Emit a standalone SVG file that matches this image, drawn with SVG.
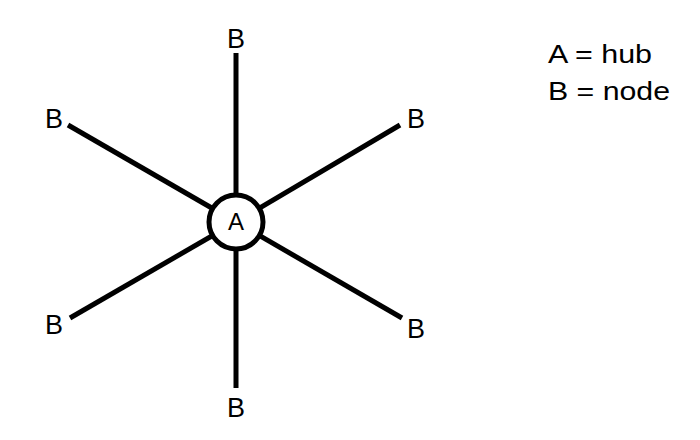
<svg xmlns="http://www.w3.org/2000/svg" width="700" height="440" viewBox="0 0 700 440">
<style>
.lbl{font-family:"Liberation Sans",Arial,sans-serif;font-size:27px;fill:#000;text-anchor:middle}
.leg{font-family:"Liberation Sans",Arial,sans-serif;font-size:25px;fill:#000}
.conn line{stroke:#000;stroke-width:5;stroke-linecap:butt}
</style>
<rect width="700" height="440" fill="#fff"/>
<g id="connectors" class="conn">
<line x1="236" y1="53" x2="236" y2="222"/>
<line x1="236" y1="388" x2="236" y2="222"/>
<line x1="68" y1="125" x2="236" y2="222"/>
<line x1="70" y1="318" x2="236" y2="222"/>
<line x1="400" y1="125" x2="236" y2="222"/>
<line x1="402" y1="318" x2="236" y2="222"/>
</g>
<g id="hub">
<circle cx="236" cy="222" r="27" fill="#fff" stroke="#000" stroke-width="5"/>
<text class="lbl" x="236" y="230" style="font-size:24px">A</text>
</g>
<g id="node-top"><text class="lbl" x="236" y="48">B</text></g>
<g id="node-bottom"><text class="lbl" x="236" y="417">B</text></g>
<g id="node-top-left"><text class="lbl" x="54" y="128">B</text></g>
<g id="node-bottom-left"><text class="lbl" x="54" y="334">B</text></g>
<g id="node-top-right"><text class="lbl" x="416" y="128">B</text></g>
<g id="node-bottom-right"><text class="lbl" x="416" y="338">B</text></g>
<g id="legend">
<text class="leg" x="548" y="63" textLength="104" lengthAdjust="spacingAndGlyphs">A = hub</text>
<text class="leg" x="548" y="100" textLength="122" lengthAdjust="spacingAndGlyphs">B = node</text>
</g>
</svg>
